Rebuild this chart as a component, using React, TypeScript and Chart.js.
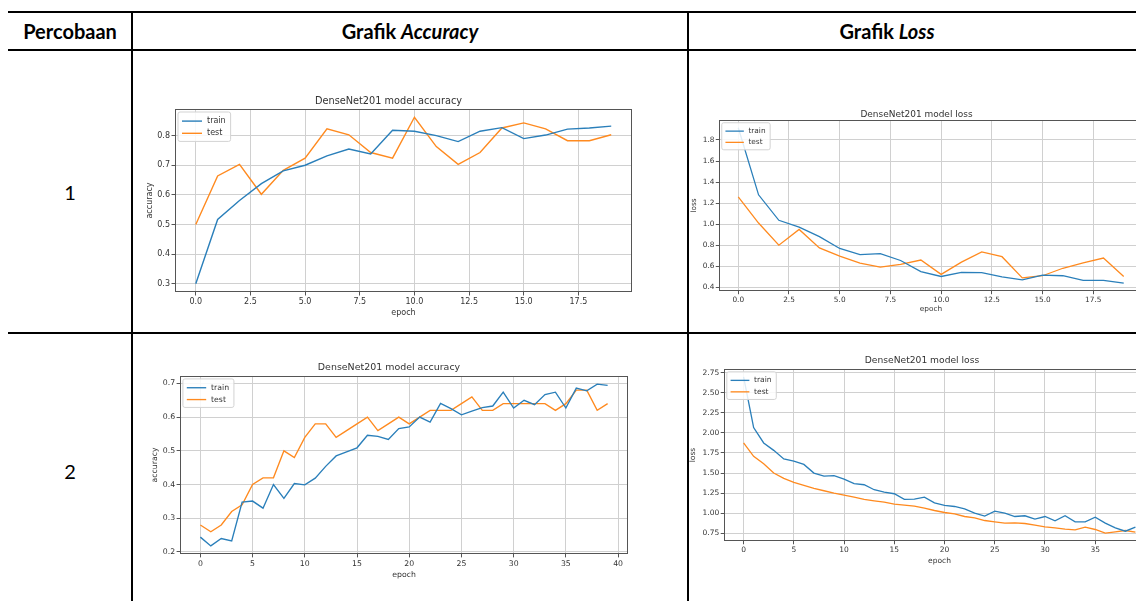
import React, { useEffect, useRef } from "react";
import { Chart, registerables } from "chart.js";
Chart.register(...registerables);

// ---------- data ----------
const EPOCHS_20 = [0, 1, 2, 3, 4, 5, 6, 7, 8, 9, 10, 11, 12, 13, 14, 15, 16, 17, 18, 19];
const EPOCHS_40 = [
  0, 1, 2, 3, 4, 5, 6, 7, 8, 9, 10, 11, 12, 13, 14, 15, 16, 17, 18, 19,
  20, 21, 22, 23, 24, 25, 26, 27, 28, 29, 30, 31, 32, 33, 34, 35, 36, 37, 38, 39,
];

const acc1Train = [0.300, 0.517, 0.581, 0.638, 0.681, 0.700, 0.732, 0.755, 0.738, 0.818, 0.815, 0.800, 0.780, 0.815, 0.827, 0.790, 0.802, 0.822, 0.826, 0.832];
const acc1Test = [0.500, 0.664, 0.703, 0.602, 0.683, 0.724, 0.823, 0.803, 0.743, 0.724, 0.862, 0.763, 0.703, 0.743, 0.826, 0.843, 0.823, 0.783, 0.783, 0.803];

const loss1Train = [1.916, 1.279, 1.037, 0.972, 0.882, 0.769, 0.710, 0.720, 0.655, 0.549, 0.503, 0.542, 0.539, 0.500, 0.471, 0.516, 0.510, 0.465, 0.465, 0.439];
const loss1Test = [1.260, 1.011, 0.800, 0.950, 0.775, 0.697, 0.630, 0.591, 0.617, 0.659, 0.523, 0.639, 0.736, 0.691, 0.490, 0.510, 0.581, 0.633, 0.678, 0.503];

const acc2Train = [
  0.244, 0.218, 0.240, 0.233, 0.348, 0.351, 0.330, 0.400, 0.359, 0.403,
  0.399, 0.419, 0.454, 0.485, 0.497, 0.509, 0.546, 0.543, 0.534, 0.566,
  0.571, 0.600, 0.585, 0.641, 0.625, 0.607, 0.618, 0.628, 0.633, 0.674,
  0.627, 0.650, 0.637, 0.667, 0.674, 0.627, 0.686, 0.678, 0.698, 0.694,
];
const acc2Test = [
  0.28, 0.26, 0.28, 0.32, 0.34, 0.40, 0.42, 0.42, 0.50, 0.48,
  0.54, 0.58, 0.58, 0.54, 0.56, 0.58, 0.60, 0.56, 0.58, 0.60,
  0.58, 0.60, 0.62, 0.62, 0.62, 0.64, 0.66, 0.62, 0.62, 0.64,
  0.64, 0.64, 0.64, 0.64, 0.62, 0.64, 0.68, 0.68, 0.62, 0.64,
];

const loss2Train = [
  2.700, 2.067, 1.875, 1.783, 1.675, 1.650, 1.608, 1.500, 1.462, 1.467,
  1.425, 1.367, 1.354, 1.292, 1.262, 1.242, 1.171, 1.175, 1.200, 1.129,
  1.096, 1.083, 1.054, 1.000, 0.963, 1.025, 1.000, 0.958, 0.967, 0.925,
  0.958, 0.904, 0.967, 0.892, 0.892, 0.950, 0.875, 0.817, 0.775, 0.825,
];
const loss2Test = [
  1.875, 1.708, 1.617, 1.500, 1.433, 1.383, 1.346, 1.308, 1.279, 1.250,
  1.225, 1.200, 1.171, 1.154, 1.138, 1.112, 1.100, 1.088, 1.063, 1.033,
  1.008, 0.992, 0.958, 0.942, 0.908, 0.892, 0.875, 0.879, 0.871, 0.850,
  0.829, 0.817, 0.800, 0.792, 0.825, 0.796, 0.750, 0.767, 0.783, 0.762,
];

const SERIES_LABELS = ["train", "test"];
const CHART_TITLE_ACC = "DenseNet201 model accuracy";
const CHART_TITLE_LOSS = "DenseNet201 model loss";
const HEADER_LABELS = ["Percobaan", "Grafik", "Accuracy", "Loss"];
const ROW_LABELS = ["1", "2"];

// ---------- styles ----------
const TRAIN_COLOR = "#2a7fba";
const TEST_COLOR = "#ff8a1f";
const FONT = '"DejaVu Sans", sans-serif';
const TEXT_COLOR = "#333";

const mplPlugin = {
  id: "mplLegend",
  afterDatasetsDraw(chart: any, _args: any, opts: any) {
    const { ctx, chartArea } = chart;
    const s = opts.s || 1;
    ctx.save();
    // frame (spines)
    ctx.strokeStyle = "#555";
    ctx.lineWidth = 1;
    ctx.strokeRect(
      Math.round(chartArea.left) + 0.5,
      Math.round(chartArea.top) + 0.5,
      Math.round(chartArea.right - chartArea.left) - 1,
      Math.round(chartArea.bottom - chartArea.top) - 1
    );
    // legend
    const fs = 8 * s;
    ctx.font = `${fs}px ${FONT}`;
    const ds = chart.data.datasets;
    let maxW = 0;
    ds.forEach((d: any) => (maxW = Math.max(maxW, ctx.measureText(d.label).width)));
    const lineLen = 20 * s;
    const rowH = 12.2 * s;
    const x0 = chartArea.left + 3 * s;
    const y0 = chartArea.top + 3 * s;
    const w = 4 * s + lineLen + 5 * s + maxW + 5 * s;
    const h = 3 * s + rowH * ds.length + 2 * s;
    ctx.fillStyle = "rgba(255,255,255,0.85)";
    ctx.strokeStyle = "#d3d3d3";
    ctx.lineWidth = 1;
    ctx.beginPath();
    (ctx as any).roundRect(x0, y0, w, h, 2);
    ctx.fill();
    ctx.stroke();
    ds.forEach((d: any, i: number) => {
      const cy = y0 + 3 * s + rowH * (i + 0.5);
      ctx.strokeStyle = d.borderColor;
      ctx.lineWidth = 1.4 * s;
      ctx.beginPath();
      ctx.moveTo(x0 + 4 * s, cy);
      ctx.lineTo(x0 + 4 * s + lineLen, cy);
      ctx.stroke();
      ctx.fillStyle = TEXT_COLOR;
      ctx.textBaseline = "middle";
      ctx.textAlign = "left";
      ctx.fillText(d.label, x0 + 4 * s + lineLen + 5 * s, cy);
    });
    ctx.restore();
  },
};

type Spec = {
  L: number; T: number; R: number; B: number;
  titleY: number; yTitleX: number; xTitleY: number;
  xMin: number; xMax: number; xStep: number; xDec: number;
  yMin: number; yMax: number; yStep: number; yDec: number;
  s: number; title: string; yLabel: string;
  epochs: number[]; train: number[]; test: number[];
};

function MplChart({ spec }: { spec: Spec }) {
  const ref = useRef<HTMLCanvasElement>(null);
  const s = spec.s;
  const tickFs = 8 * s;
  const titleFs = 9.75 * s;
  const axFs = 8 * s;
  const titleLh = titleFs * 1.2;
  const axLh = axFs * 1.2;
  const left = Math.round(spec.yTitleX - axLh / 2);
  const top = Math.round(spec.titleY - titleLh / 2 - 2);
  const bottom = Math.round(spec.xTitleY + axLh / 2);
  const right = Math.round(spec.R + 6);
  const width = right - left;
  const height = bottom - top;
  const yAxisW = spec.L - left;
  const xAxisH = bottom - spec.B;
  const titlePadBottom = spec.T - top - 2 - titleLh;

  useEffect(() => {
    const tickFont = { family: FONT, size: tickFs };
    const grid = {
      color: "#d0d0d0",
      lineWidth: 1,
      drawTicks: true,
      tickLength: 3.5 * s,
      tickColor: "#555",
      tickWidth: 1,
    };
    const chart = new Chart(ref.current as HTMLCanvasElement, {
      type: "line",
      data: {
        datasets: [
          {
            label: SERIES_LABELS[0],
            data: spec.epochs.map((e, i) => ({ x: e, y: spec.train[i] })),
            borderColor: TRAIN_COLOR,
            borderWidth: 1.4 * s,
            pointRadius: 0,
            tension: 0,
            fill: false,
          },
          {
            label: SERIES_LABELS[1],
            data: spec.epochs.map((e, i) => ({ x: e, y: spec.test[i] })),
            borderColor: TEST_COLOR,
            borderWidth: 1.4 * s,
            pointRadius: 0,
            tension: 0,
            fill: false,
          },
        ],
      },
      options: {
        responsive: false,
        animation: false,
        devicePixelRatio: 1,
        layout: { padding: { left: 0, top: 0, right: right - spec.R, bottom: 0 } },
        plugins: {
          legend: { display: false },
          tooltip: { enabled: false },
          title: {
            display: true,
            text: spec.title,
            color: TEXT_COLOR,
            font: { family: FONT, size: titleFs, weight: "normal", lineHeight: 1.2 },
            padding: { top: 2, bottom: titlePadBottom },
          },
          mplLegend: { s },
        } as any,
        scales: {
          x: {
            type: "linear",
            min: spec.xMin,
            max: spec.xMax,
            afterFit: (sc: any) => { sc.height = xAxisH; },
            ticks: {
              stepSize: spec.xStep,
              includeBounds: false,
              autoSkip: false,
              maxRotation: 0,
              padding: 1.5 * s,
              font: tickFont,
              color: TEXT_COLOR,
              callback: (v: any) => Number(v).toFixed(spec.xDec),
            },
            grid,
            border: { display: false },
            title: {
              display: true,
              text: "epoch",
              color: TEXT_COLOR,
              font: { family: FONT, size: axFs, lineHeight: 1.2 },
              padding: { top: 0, bottom: 0 },
            },
          },
          y: {
            type: "linear",
            min: spec.yMin,
            max: spec.yMax,
            afterFit: (sc: any) => { sc.width = yAxisW; },
            ticks: {
              stepSize: spec.yStep,
              includeBounds: false,
              autoSkip: false,
              padding: 1.5 * s,
              font: tickFont,
              color: TEXT_COLOR,
              callback: (v: any) => Number(v).toFixed(spec.yDec),
            },
            grid,
            border: { display: false },
            title: {
              display: true,
              text: spec.yLabel,
              color: TEXT_COLOR,
              font: { family: FONT, size: axFs, lineHeight: 1.2 },
              padding: { top: 0, bottom: 0 },
            },
          },
        },
      } as any,
      plugins: [mplPlugin],
    });
    return () => chart.destroy();
  }, []);

  return (
    <canvas
      ref={ref}
      width={width}
      height={height}
      style={{ position: "absolute", left, top, width, height }}
    />
  );
}

const SPECS: Spec[] = [
  {
    L: 175, T: 109, R: 632, B: 292, titleY: 102, yTitleX: 150, xTitleY: 313,
    xMin: -0.95, xMax: 19.95, xStep: 2.5, xDec: 1,
    yMin: 0.272, yMax: 0.890, yStep: 0.1, yDec: 1,
    s: 1, title: CHART_TITLE_ACC, yLabel: "accuracy",
    epochs: EPOCHS_20, train: acc1Train, test: acc1Test,
  },
  {
    L: 719, T: 120, R: 1143, B: 291, titleY: 114, yTitleX: 694, xTitleY: 310,
    xMin: -0.95, xMax: 19.95, xStep: 2.5, xDec: 1,
    yMin: 0.365, yMax: 1.990, yStep: 0.2, yDec: 1,
    s: 0.92, title: CHART_TITLE_LOSS, yLabel: "loss",
    epochs: EPOCHS_20, train: loss1Train, test: loss1Test,
  },
  {
    L: 180, T: 376, R: 628, B: 554, titleY: 367.5, yTitleX: 155, xTitleY: 575,
    xMin: -1.95, xMax: 40.95, xStep: 5, xDec: 0,
    yMin: 0.194, yMax: 0.722, yStep: 0.1, yDec: 1,
    s: 0.97, title: CHART_TITLE_ACC, yLabel: "accuracy",
    epochs: EPOCHS_40, train: acc2Train, test: acc2Test,
  },
  {
    L: 724, T: 369, R: 1155, B: 541, titleY: 360.5, yTitleX: 694, xTitleY: 561,
    xMin: -1.95, xMax: 40.95, xStep: 5, xDec: 0,
    yMin: 0.6525, yMax: 2.7975, yStep: 0.25, yDec: 2,
    s: 0.94, title: CHART_TITLE_LOSS, yLabel: "loss",
    epochs: EPOCHS_40, train: loss2Train, test: loss2Test,
  },
];

const TABLE_FONT = 'Lato, "Liberation Sans", sans-serif';

function Line({ x, y, w, h }: { x: number; y: number; w: number; h: number }) {
  return <div style={{ position: "absolute", left: x, top: y, width: w, height: h, background: "#000" }} />;
}

function Cell({ cx, cy, children, bold }: { cx: number; cy: number; children: any; bold?: boolean }) {
  return (
    <div
      style={{
        position: "absolute",
        left: cx - 200,
        top: cy - 13,
        width: 400,
        height: 26,
        lineHeight: "26px",
        textAlign: "center",
        fontFamily: TABLE_FONT,
        fontSize: 20,
        fontWeight: bold ? 700 : 400,
        color: "#000",
        whiteSpace: "nowrap",
      }}
    >
      {children}
    </div>
  );
}

export default function App() {
  return (
    <div
      style={{
        position: "fixed",
        left: 0,
        top: 0,
        width: 1136,
        height: 601,
        overflow: "hidden",
        background: "#fff",
      }}
    >
      {/* table rules */}
      <Line x={8} y={11} w={1128} h={2} />
      <Line x={8} y={49} w={1128} h={2} />
      <Line x={8} y={332} w={1128} h={2} />
      <Line x={131} y={11} w={2} h={590} />
      <Line x={687} y={11} w={2} h={590} />

      {/* header */}
      <Cell cx={70} cy={31} bold>{HEADER_LABELS[0]}</Cell>
      <Cell cx={410} cy={31} bold>
        {HEADER_LABELS[1]} <i>{HEADER_LABELS[2]}</i>
      </Cell>
      <Cell cx={887} cy={31} bold>
        {HEADER_LABELS[1]} <i>{HEADER_LABELS[3]}</i>
      </Cell>

      {/* row labels */}
      <Cell cx={70} cy={192}>{ROW_LABELS[0]}</Cell>
      <Cell cx={70} cy={471}>{ROW_LABELS[1]}</Cell>

      {SPECS.map((sp, i) => (
        <MplChart key={i} spec={sp} />
      ))}
    </div>
  );
}
